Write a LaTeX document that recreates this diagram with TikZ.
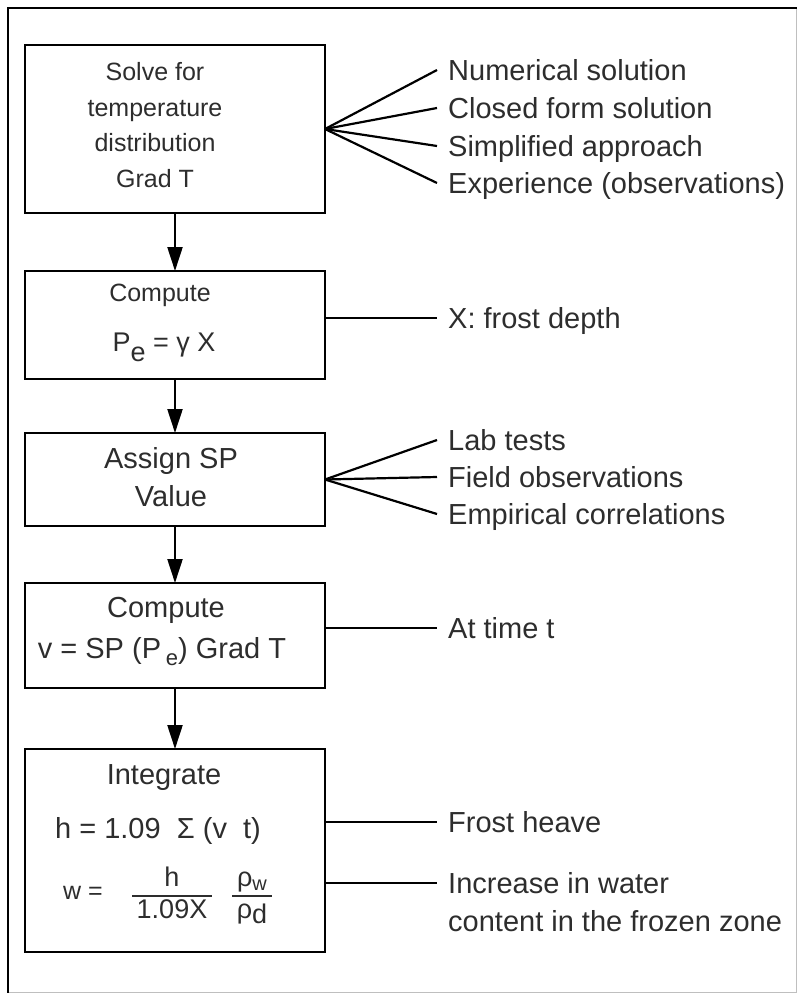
\documentclass[tikz,border=0pt]{standalone}
\usepackage{fontspec}
\setmainfont{Liberation Sans}
\usetikzlibrary{positioning,arrows.meta}
\definecolor{inkgray}{RGB}{45,45,45}
\tikzset{
	stage/.style={draw,line width=2.8pt,minimum width=300pt,outer sep=0pt,inner sep=0pt},
	boxtext/.style={text=inkgray,font=\fontsize{29}{38}\selectfont,align=center,inner sep=0pt},
	smalltext/.style={boxtext,font=\fontsize{25}{35.5}\selectfont},
	note/.style={text=inkgray,font=\fontsize{29}{38}\selectfont,anchor=west,inner xsep=11pt,inner ysep=0pt,text height=21pt,text depth=0pt},
	link/.style={line width=2.2pt},
	flow/.style={line width=2.2pt,-{Triangle[length=24pt,width=15pt]}}
}
\begin{document}
\begin{tikzpicture}[x=1pt,y=-1pt]
\useasboundingbox (0,0) rectangle (797,993);
\draw[line width=0.6pt,black!25] (8,8) rectangle (796,992);
\draw[line width=2.8pt] (797,8) -- (8,8) -- (8,993);

% stages
\node[stage,minimum height=168pt](b1) at (175,129) {};
\node[stage,minimum height=108pt](b2)[below=58pt of b1]{};
\node[stage,minimum height=93pt](b3)[below=54pt of b2]{};
\node[stage,minimum height=105pt](b4)[below=57pt of b3]{};
\node[stage,minimum height=203pt](b5)[below=61pt of b4]{};

\node[smalltext](solve) at (155,125) {Solve for\\temperature\\distribution\\Grad T};
\node[smalltext](comp1) at (160,295) {Compute};
\node[boxtext,font=\fontsize{27}{30}\selectfont](pe) at (164,347) {P\raisebox{-10pt}{e} = γ X};
\node[boxtext](assign) at (171,477) {Assign SP\\Value};
\node[boxtext](comp2) at (166,610) {Compute};
\node[boxtext](vel) at (162,652) {v = SP (P\,\raisebox{-7pt}{\fontsize{22}{22}\selectfont e}) Grad T};
\node[boxtext](integ) at (164,778) {Integrate};
\node[boxtext](heave) at (158,831) {h = 1.09 \ Σ (v \ t)};
\node[boxtext,font=\fontsize{25}{30}\selectfont](weq) at (83,893) {w =};
\node[boxtext,font=\fontsize{27}{30}\selectfont](frac1) at (172,896) {\setlength{\arrayrulewidth}{2pt}\begin{tabular}{@{\,}c@{\,}}h\\\hline 1.09X\end{tabular}};
\node[boxtext,font=\fontsize{27}{30}\selectfont](frac2) at (252,896) {\setlength{\arrayrulewidth}{2pt}\begin{tabular}{@{\,}c@{\,}}ρ\raisebox{-4pt}{\fontsize{20}{20}\selectfont w}\\\hline ρ\raisebox{-5pt}{d}\end{tabular}};

% notes
\node[note](n1) at (437,70) {Numerical solution};
\node[note](n2) at (437,108) {Closed form solution};
\node[note](n3) at (437,146) {Simplified approach};
\node[note](n4) at (437,183) {Experience (observations)};
\node[note](depth) at (437,318) {X: frost depth};
\node[note](s1) at (437,440) {Lab tests};
\node[note](s2) at (437,477) {Field observations};
\node[note](s3) at (437,514) {Empirical correlations};
\node[note](time) at (437,628) {At time t};
\node[note](fh) at (437,822) {Frost heave};
\node[note](wc1) at (437,883) {Increase in water};
\node[note](wc2) at (437,921) {content in the frozen zone};

\foreach \n in {n1,n2,n3,n4}
	\draw[link] (b1.east) -- (\n.west);
\foreach \n in {s1,s2,s3}
	\draw[link] (b3.east) -- (\n.west);
\draw[link] (b2.east |- depth.west) -- (depth.west);
\draw[link] (b4.east |- time.west) -- (time.west);
\draw[link] (b5.east |- fh.west) -- (fh.west);
\draw[link] (b5.east |- wc1.west) -- (wc1.west);

\foreach \a/\b in {b1/b2,b2/b3,b3/b4,b4/b5}
	\draw[flow] (\a) -- (\b);

\end{tikzpicture}
\end{document}
